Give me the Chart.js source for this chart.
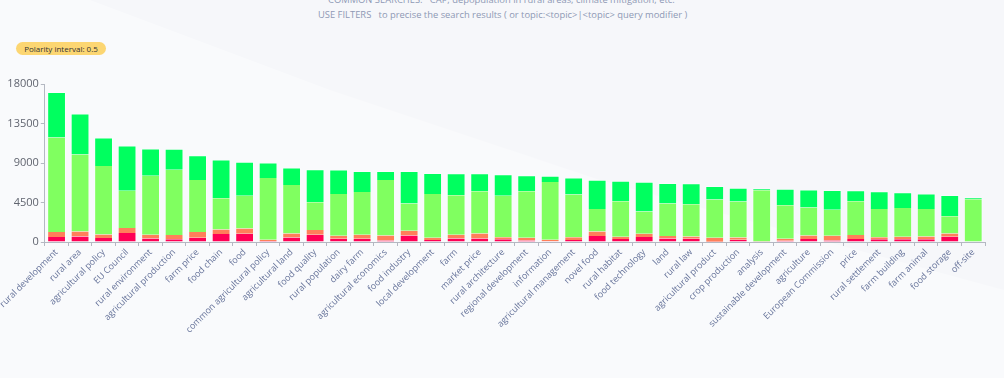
<!DOCTYPE html>
<html>
<head>
<meta charset="utf-8">
<script src="https://cdn.jsdelivr.net/npm/chart.js@4.4.1/dist/chart.umd.min.js"></script>
<style>
  html, body { margin: 0; padding: 0; }
  body {
    width: 1004px; height: 378px; overflow: hidden; position: relative;
    background: #f6f7fa; font-family: 'Open Sans', sans-serif;
  }
  .sweep {
    position: absolute; left: 0; top: 0; width: 1004px; height: 378px;
    background: #f9fafc;
    clip-path: polygon(90px 0, 330px 90px, 600px 180px, 1004px 290px, 1004px 378px, 0 378px, 0 0);
  }
  .hint { position: absolute; left: 318px; font-size: 9.4px; color: #8e99b5; white-space: pre; }
  .badge {
    position: absolute; left: 16px; top: 42px; width: 90px; height: 13px; line-height: 13px;
    border-radius: 7px; background: #fcd672; color: #333; font-size: 8px; text-align: center;
  }
  #wrap { position: absolute; left: 0; top: 74px; width: 1004px; height: 300px; }
</style>
</head>
<body>
<div class="sweep"></div>
<div class="hint" style="top:-7px;left:328px">COMMON SEARCHES:   CAP, depopulation in rural areas, climate mitigation, etc.</div>
<div class="hint" style="top:8px">USE FILTERS   to precise the search results ( or topic:&lt;topic&gt;|&lt;topic&gt; query modifier )</div>
<div class="badge">Polarity interval: 0.5</div>
<div id="wrap"><canvas id="polarityChart" width="1004" height="300"></canvas></div>
<script>
// topics, sorted by total mentions
const topics = ['rural development', 'rural area', 'agricultural policy', 'EU Council', 'rural environment',
  'agricultural production', 'farm price', 'food chain', 'food', 'common agricultural policy',
  'agricultural land', 'food quality', 'rural population', 'dairy farm', 'agricultural economics',
  'food industry', 'local development', 'farm', 'market price', 'rural architecture',
  'regional development', 'information', 'agricultural management', 'novel food', 'rural habitat',
  'food technology', 'land', 'rural law', 'agricultural product', 'crop production',
  'analysis', 'sustainable development', 'agriculture', 'European Commission', 'price',
  'rural settlement', 'farm building', 'farm animal', 'food storage', 'off-site'];

// polarity buckets, bottom to top
const veryNegative = [570, 630, 450, 1020, 410, 300, 490, 910, 940, 100,
  520, 830, 370, 370, 180, 750, 230, 410, 410, 300,
  180, 80, 230, 680, 340, 570, 410, 370, 40, 260,
  20, 150, 340, 180, 340, 300, 300, 300, 600, 0];
const negative = [570, 570, 410, 570, 420, 500, 650, 520, 600, 160,
  450, 530, 340, 450, 570, 530, 260, 420, 570, 230,
  310, 180, 300, 520, 260, 370, 270, 260, 450, 260,
  50, 230, 410, 530, 450, 230, 310, 340, 370, 0];
const positive = [10770, 8780, 7790, 4260, 6720, 7440, 5930, 3560, 3740, 7030,
  5520, 3180, 4760, 4880, 6320, 3100, 4990, 4500, 4810, 4730,
  5300, 6580, 4880, 2570, 4050, 2530, 3700, 3670, 4340, 4080,
  5830, 3820, 3180, 2950, 3860, 3220, 3260, 3110, 1970, 4880];
const veryPositive = [5170, 4650, 3260, 5150, 3110, 2380, 2800, 4420, 3860, 1780,
  2010, 3740, 2800, 2380, 1020, 3710, 2380, 2500, 2040, 2460,
  1810, 710, 1930, 3320, 2340, 3400, 2350, 2380, 1550, 1590,
  230, 1880, 2040, 2270, 1250, 2040, 1810, 1770, 2420, 230];

const yTicks = [0, 4500, 9000, 13500, 18000];

const axisColor = '#b4b8c2';

function makeSet(label, values, color, isTop) {
  return {
    label: label,
    data: values,
    backgroundColor: color,
    borderColor: 'rgba(255,255,255,0.4)',
    borderWidth: { left: 1, right: 1, top: isTop ? 1 : 0, bottom: 0 },
    borderSkipped: false,
    barPercentage: 0.8,
    categoryPercentage: 1
  };
}

var polarityChart = new Chart(document.getElementById('polarityChart'), {
  type: 'bar',
  data: {
    labels: topics,
    datasets: [
      makeSet('very negative', veryNegative, '#ff0055', false),
      makeSet('negative', negative, '#ff7f5a', false),
      makeSet('positive', positive, '#80ff60', false),
      makeSet('very positive', veryPositive, '#00ff5f', true)
    ]
  },
  options: {
    responsive: false,
    animation: false,
    devicePixelRatio: 1,
    layout: { padding: { top: 10, right: 19, left: 0, bottom: 0 } },
    plugins: { legend: { display: false }, tooltip: { enabled: false } },
    scales: {
      x: {
        stacked: true,
        afterFit: function(scale) { scale.height = 132; },
        border: { color: axisColor },
        grid: { drawOnChartArea: false, color: axisColor, tickLength: 4 },
        ticks: {
          autoSkip: false, maxRotation: 45, minRotation: 45, padding: 1,
          color: '#66739a', font: { family: 'Open Sans', size: 9 }
        }
      },
      y: {
        stacked: true,
        min: 0,
        max: 18000,
        afterFit: function(scale) { scale.width = 39; },
        afterBuildTicks: function(scale) {
          scale.ticks = yTicks.map(function(v) { return { value: v }; });
        },
        border: { color: axisColor },
        grid: { drawOnChartArea: false, color: axisColor, tickLength: 4 },
        ticks: {
          padding: 2,
          color: '#60646f', font: { family: 'Open Sans', size: 11 },
          callback: function(value) { return String(value); }
        }
      }
    }
  }
});
</script>
</body>
</html>
